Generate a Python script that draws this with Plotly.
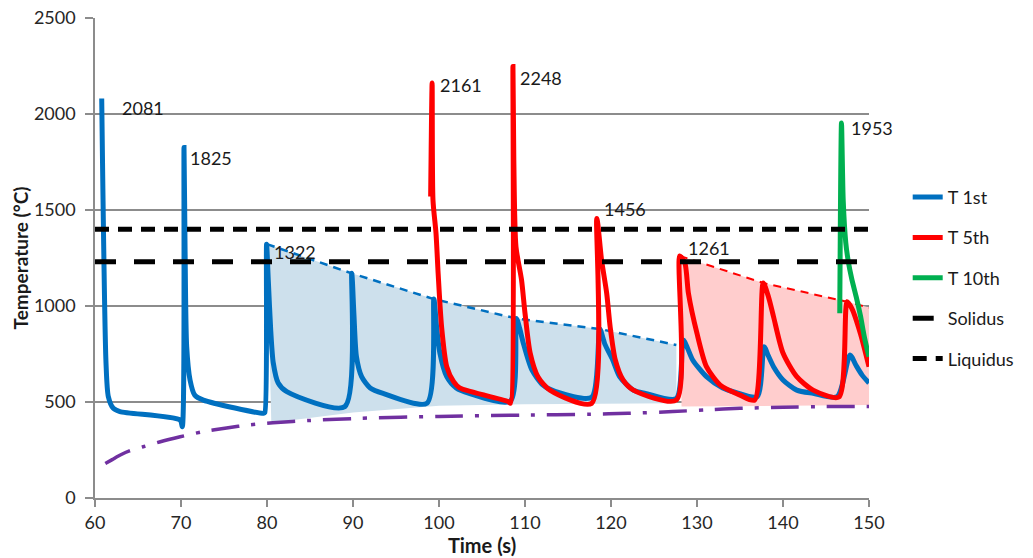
import plotly.graph_objects as go

# ---------------- data ----------------
t1_time = [60.78, 61.28, 61.55, 62.13, 62.9, 69.9, 70.15, 70.35,
           70.47, 70.66, 71.05, 71.6, 72.6, 79.6, 79.75, 79.95,
           80.15, 80.43, 80.73, 81.3, 82.3, 89.05, 89.85,
           90.1, 90.4, 91.0, 92.0, 93.5, 98.6, 99.4,
           99.7, 100.1, 100.9, 102.0, 103.5, 108.3, 109.0,
           109.4, 109.8, 110.8, 112.1, 113.5, 117.75, 118.7,
           119.3, 120.2, 121.0, 122.6, 124.0, 127.6, 128.4,
           128.9, 129.5, 131.1, 133.0, 134.5, 137.0, 137.8,
           138.3, 138.9, 140.0, 141.6, 143.5, 146.3, 147.8,
           148.5, 149.2, 150.0]
t1_temp = [2081, 703, 528, 467, 450, 406, 371, 1825,
           1309, 788, 615, 536, 510, 441, 445, 1322,
           1135, 875, 703, 599, 554, 476, 1170,
           963, 736, 632, 573, 545, 494, 1036,
           900, 755, 632, 573, 545, 505, 935,
           880, 807, 667, 588, 555, 525, 880,
           800, 719, 632, 562, 545, 518, 823,
           780, 719, 632, 573, 550, 528, 788,
           740, 684, 615, 562, 545, 528, 745,
           690, 640, 599]

t5_time = [99.03, 99.2, 99.3, 99.65, 99.9, 100.3, 100.9, 101.7, 102.4, 108.06, 108.3, 108.6,
           108.7, 108.95, 109.6, 110.0, 110.6, 111.5, 112.9, 117.75, 118.35,
           118.9, 119.5, 119.9, 120.5, 121.4, 122.6, 127.6, 128.0,
           128.6, 129.0, 130.0, 131.1, 132.7, 135.0, 136.7, 137.7,
           138.3, 138.9, 140.0, 141.6, 143.5, 146.5, 147.45,
           148.0, 149.0, 150.0]
t5_temp = [1570, 2161, 1552, 1380, 1170, 892, 684, 606, 573, 502, 493, 2248,
           1760, 1309, 1135, 963, 755, 632, 562, 493, 1456,
           1240, 1066, 892, 719, 615, 562, 510, 1261,
           1222, 1067, 857, 684, 588, 536, 510, 1120,
           1049, 944, 755, 632, 562, 526, 1022,
           988, 857, 684]

t10_time = [146.6, 146.8, 147.0, 147.3, 147.6, 148.0, 148.5, 149.0, 149.5, 150.0]
t10_temp = [962, 1953, 1552, 1330, 1230, 1140, 1050, 950, 830, 736]

solidus_temp = 1230
liquidus_temp = 1400
line_time = [60, 150]

base_time = [61.2, 62.0, 63.0, 64.0, 65.6, 67.5, 69.9, 72.5, 75.3, 78.0, 80.7, 85.0,
             90.8, 100.0, 110.0, 117.6, 122.0, 127.2, 131.0, 135.0, 140.0, 145.0, 150.0]
base_temp = [180, 200, 225, 245, 267, 292, 319, 345, 365, 381, 392, 404,
             415, 425, 432, 436, 441, 450, 459, 467, 473, 476, 476]

# peak envelopes (dashed) and shaded bands
blue_env_time = [80.0, 89.85, 99.4, 109.0, 118.7, 127.6]
blue_env_temp = [1322, 1170, 1036, 935, 880, 797]
blue_floor_time = [127.6, 120.0, 110.0, 100.0, 90.0, 80.5]
blue_floor_temp = [494, 492, 488, 480, 445, 392]

red_env_time = [128.0, 137.7, 147.45, 150.0]
red_env_temp = [1261, 1120, 1022, 992]
red_floor_time = [150.0, 140.0, 128.2]
red_floor_temp = [484, 480, 476]

peak_time = [60.78, 70.35, 79.95, 99.2, 108.6, 118.35, 128.0, 146.8]
peak_temp = [2081, 1825, 1322, 2161, 2248, 1456, 1261, 1953]
peak_label = ["2081", "1825", "1322", "2161", "2248", "1456", "1261", "1953"]
label_shift_x = [18, 4, 5, 6, 5, 5, 6, 8]
label_shift_y = [-10, -10, -8, -2, -12, 9, 8, -5]

# ---------------- figure ----------------
FONT = "Lato, 'Open Sans', 'DejaVu Sans', sans-serif"
BLUE = "#0070C0"
RED = "#FF0000"
GREEN = "#00B050"
PURPLE = "#7030A0"
AXIS = "#8C8C8C"
SMOOTH = dict(shape="spline", smoothing=0.7)

fig = go.Figure()

fig.add_trace(go.Scatter(
    x=blue_env_time + blue_floor_time + [blue_env_time[0]],
    y=blue_env_temp + blue_floor_temp + [blue_env_temp[0]],
    mode="lines", fill="toself", fillcolor="#CDE0EC",
    line=dict(width=0, color="#CDE0EC"), showlegend=False, hoverinfo="skip"))
fig.add_trace(go.Scatter(
    x=red_env_time + red_floor_time + [red_env_time[0]],
    y=red_env_temp + red_floor_temp + [red_env_temp[0]],
    mode="lines", fill="toself", fillcolor="#FFCDCD",
    line=dict(width=0, color="#FFCDCD"), showlegend=False, hoverinfo="skip"))

fig.add_trace(go.Scatter(x=blue_env_time, y=blue_env_temp, mode="lines",
                         line=dict(color=BLUE, width=2.5, dash="8px,6px"),
                         showlegend=False, hoverinfo="skip"))
fig.add_trace(go.Scatter(x=red_env_time, y=red_env_temp, mode="lines",
                         line=dict(color=RED, width=2, dash="8px,6px"),
                         showlegend=False, hoverinfo="skip"))
fig.add_trace(go.Scatter(x=base_time, y=base_temp, mode="lines",
                         line=dict(color=PURPLE, width=3.5, dash="28px,12px,4px,12px", **SMOOTH),
                         showlegend=False, hoverinfo="skip"))

fig.add_trace(go.Scatter(x=t1_time, y=t1_temp, mode="lines", name="T 1st",
                         legendgroup="a", line=dict(color=BLUE, width=5, **SMOOTH)))
fig.add_trace(go.Scatter(x=t5_time, y=t5_temp, mode="lines", name="T 5th",
                         legendgroup="b", line=dict(color=RED, width=5, **SMOOTH)))
fig.add_trace(go.Scatter(x=t10_time, y=t10_temp, mode="lines", name="T 10th",
                         legendgroup="c", line=dict(color=GREEN, width=5, **SMOOTH)))
fig.add_trace(go.Scatter(x=line_time, y=[solidus_temp] * len(line_time), mode="lines",
                         name="Solidus", legendgroup="d",
                         line=dict(color="black", width=5, dash="21px,18px")))
fig.add_trace(go.Scatter(x=line_time, y=[liquidus_temp] * len(line_time), mode="lines",
                         name="Liquidus", legendgroup="e",
                         line=dict(color="black", width=5, dash="14px,9px")))

for tx, ty, lab, sx, sy in zip(peak_time, peak_temp, peak_label, label_shift_x, label_shift_y):
    fig.add_annotation(x=tx, y=ty, text=lab, showarrow=False, xanchor="left",
                       yanchor="middle", xshift=sx, yshift=sy,
                       font=dict(family=FONT, size=18, color="#1a1a1a"))

fig.update_layout(
    width=1033, height=558,
    margin=dict(l=95, r=164, t=18, b=60),
    paper_bgcolor="white", plot_bgcolor="white",
    font=dict(family=FONT, size=18, color="#262626"),
    showlegend=True,
    legend=dict(x=1.05, y=0.665, xanchor="left", yanchor="top",
                traceorder="grouped", tracegroupgap=14,
                font=dict(family=FONT, size=18, color="#1a1a1a"),
                bgcolor="rgba(0,0,0,0)"),
    xaxis=dict(range=[60, 150], tick0=60, dtick=10, showgrid=False, automargin=False,
               showline=True, linecolor=AXIS, linewidth=1.5, zeroline=False,
               ticks="outside", ticklen=7, tickcolor=AXIS, tickwidth=1.5,
               ticklabelstandoff=1,
               tickfont=dict(family=FONT, size=18, color="#262626"),
               title=dict(text="<b>Time (s)</b>", standoff=0,
                          font=dict(family=FONT, size=20, color="#1a1a1a"))),
    yaxis=dict(range=[0, 2500], tick0=0, dtick=500, showgrid=True, automargin=False,
               gridcolor=AXIS, gridwidth=1.5, zeroline=False,
               showline=True, linecolor=AXIS, linewidth=1.5,
               ticks="outside", ticklen=8, tickcolor=AXIS, tickwidth=1.5,
               ticklabelstandoff=6,
               tickfont=dict(family=FONT, size=18, color="#262626"),
               title=dict(text="<b>Temperature (°C)</b>", standoff=0,
                          font=dict(family=FONT, size=19, color="#1a1a1a"))),
)

fig.write_html("out.html", config={"displayModeBar": False},
               post_script="document.body.style.margin='0px';document.body.style.overflow='hidden';")
